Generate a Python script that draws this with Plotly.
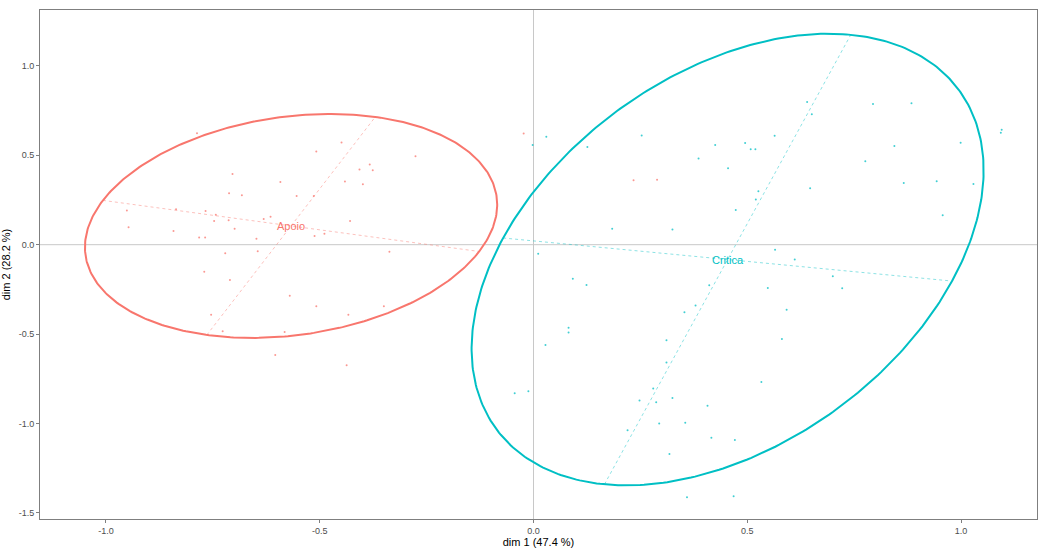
import numpy as np
import plotly.graph_objects as go

# Individuals on the first factorial plane, by group
apoio_x = [-0.787, -0.704, -0.592, -0.712, -0.682, -0.554, -0.951, -0.836, -0.767, -0.743,
           -0.747, -0.713, -0.631, -0.615, -0.699, -0.947, -0.842, -0.782, -0.768, -0.648,
           -0.645, -0.721, -0.770, -0.710, -0.570, -0.508, -0.514, -0.407, -0.383, -0.376,
           -0.441, -0.399, -0.429, -0.512, -0.489, -0.337, -0.449, -0.276, -0.508, -0.433,
           -0.350, -0.582, -0.437, -0.023, 0.234, 0.289, -0.754, -0.727, -0.604]
apoio_y = [0.624, 0.395, 0.351, 0.288, 0.277, 0.273, 0.192, 0.198, 0.188, 0.168,
           0.133, 0.137, 0.144, 0.157, 0.089, 0.098, 0.076, 0.040, 0.040, 0.033,
           -0.037, -0.048, -0.151, -0.198, -0.286, 0.522, 0.273, 0.421, 0.449, 0.416,
           0.353, 0.338, 0.133, 0.048, 0.061, -0.039, 0.572, 0.495, -0.345, -0.392,
           -0.345, -0.489, -0.674, 0.622, 0.360, 0.364, -0.392, -0.484, -0.617]

critica_x = [0.030, -0.002, 0.126, 0.253, 0.425, 0.495, 0.508, 0.519, 0.386, 0.455,
             0.526, 0.520, 0.473, 0.184, 0.325, 0.011, 0.092, 0.124, 0.411, 0.640,
             0.651, 0.794, 0.884, 1.095, 1.093, 0.564, 0.844, 0.999, 0.776, 0.647,
             0.866, 0.943, 1.029, 0.957, 0.565, 0.611, 0.700, 0.548, 0.722, 0.379,
             0.353, 0.082, 0.082, 0.028, 0.311, 0.311, -0.044, -0.012, 0.280, 0.248,
             0.287, 0.325, 0.407, 0.533, 0.294, 0.355, 0.220, 0.416, 0.471, 0.318,
             0.359, 0.468, 0.592, 0.581]
critica_y = [0.604, 0.558, 0.547, 0.611, 0.558, 0.569, 0.534, 0.534, 0.482, 0.428,
             0.299, 0.253, 0.194, 0.089, 0.085, -0.050, -0.190, -0.225, -0.227, 0.798,
             0.730, 0.787, 0.791, 0.643, 0.626, 0.609, 0.552, 0.571, 0.467, 0.316,
             0.345, 0.355, 0.340, 0.165, -0.028, -0.083, -0.176, -0.242, -0.244, -0.340,
             -0.378, -0.465, -0.491, -0.561, -0.534, -0.659, -0.831, -0.820, -0.805, -0.871,
             -0.881, -0.857, -0.901, -0.768, -1.001, -0.996, -1.038, -1.080, -1.093, -1.171,
             -1.413, -1.407, -0.364, -0.528]

# Group ellipses: centre and the two principal half-axes
apoio_center = [-0.567, 0.105]
apoio_axis1 = [0.440, -0.143]
apoio_axis2 = [0.197, 0.610]

critica_center = [0.454, -0.083]
critica_axis1 = [0.525, -0.1205]
critica_axis2 = [0.288, 1.2575]

groups = ["Apoio", "Critica"]
colors = ["#F8766D", "#00BFC4"]
faint = ["rgba(248,118,109,0.45)", "rgba(0,191,196,0.45)"]

x_ticks = [-1.0, -0.5, 0.0, 0.5, 1.0]
y_ticks = [-1.5, -1.0, -0.5, 0.0, 0.5, 1.0]

fig = go.Figure()

# reference lines through the origin
fig.add_shape(type="line", xref="x", yref="paper", x0=0, x1=0, y0=0, y1=1,
              line=dict(color="#C8C8C8", width=1), layer="below")
fig.add_shape(type="line", xref="paper", yref="y", x0=0, x1=1, y0=0, y1=0,
              line=dict(color="#C8C8C8", width=1), layer="below")

datasets = [
    (apoio_x, apoio_y, apoio_center, apoio_axis1, apoio_axis2),
    (critica_x, critica_y, critica_center, critica_axis1, critica_axis2),
]

t = np.linspace(0, 2 * np.pi, 400)
for (px, py, c, a1, a2), name, col, fcol in zip(datasets, groups, colors, faint):
    c = np.array(c)
    a1 = np.array(a1)
    a2 = np.array(a2)
    # axes of the ellipse
    for a in (a1, a2):
        fig.add_trace(go.Scatter(
            x=[c[0] - a[0], c[0] + a[0]], y=[c[1] - a[1], c[1] + a[1]],
            mode="lines", line=dict(color=fcol, width=1, dash="dot"),
            hoverinfo="skip", showlegend=False))
    # ellipse outline
    ex = c[0] + np.cos(t) * a1[0] + np.sin(t) * a2[0]
    ey = c[1] + np.cos(t) * a1[1] + np.sin(t) * a2[1]
    fig.add_trace(go.Scatter(x=ex, y=ey, mode="lines",
                             line=dict(color=col, width=2),
                             hoverinfo="skip", showlegend=False))
    # individuals
    fig.add_trace(go.Scatter(x=px, y=py, mode="markers", name=name,
                             marker=dict(color=col, size=2, opacity=0.75),
                             showlegend=False))
    # group label at the centre
    fig.add_annotation(x=c[0], y=c[1], text=name, showarrow=False,
                       font=dict(color=col, size=11, family="Liberation Sans"))

axis_common = dict(
    showgrid=False, zeroline=False, showline=True, linecolor="#7F7F7F",
    linewidth=1, mirror=True, ticks="outside", ticklen=3, tickcolor="#7F7F7F",
    tickfont=dict(size=9, color="#4D4D4D", family="Liberation Sans"),
)

fig.update_layout(
    width=1039, height=548,
    margin=dict(l=40, r=1, t=10, b=24),
    paper_bgcolor="white", plot_bgcolor="white",
    font=dict(family="Liberation Sans"),
    xaxis=dict(range=[-1.1542, 1.1776], tickvals=x_ticks,
               ticktext=[f"{v:.1f}" for v in x_ticks],
               title=dict(text="dim 1 (47.4 %)", standoff=4,
                          font=dict(size=11, color="black")),
               **axis_common),
    yaxis=dict(range=[-1.5346, 1.313], tickvals=y_ticks,
               ticktext=[f"{v:.1f}" for v in y_ticks],
               title=dict(text="dim 2 (28.2 %)", standoff=6,
                          font=dict(size=11, color="black")),
               **axis_common),
)

fig.write_html("out.html")
